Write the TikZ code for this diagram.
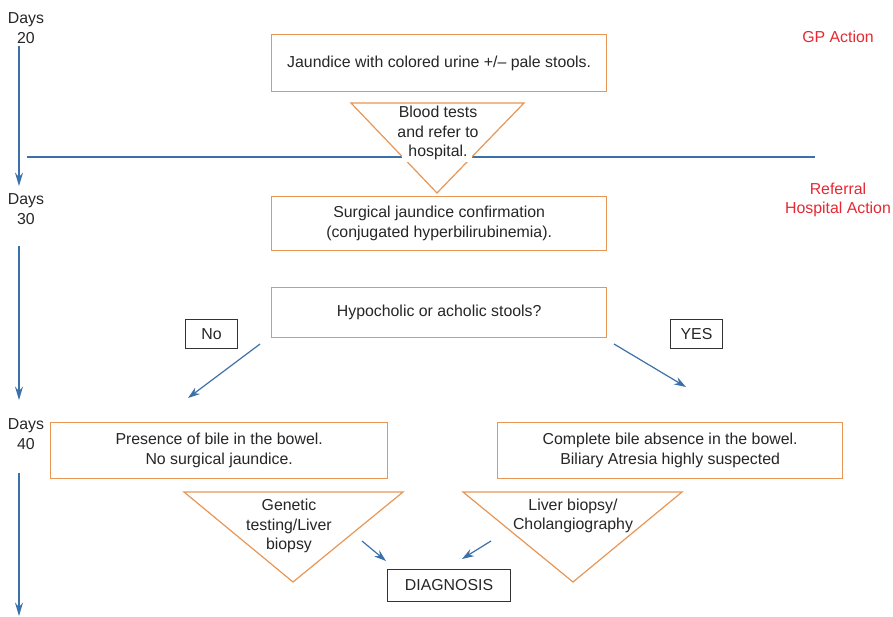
\documentclass[tikz,border=0pt]{standalone}
\usepackage{fontspec}
\setmainfont{Liberation Sans}
\usetikzlibrary{arrows.meta}
\definecolor{borange}{RGB}{232,150,85}
\definecolor{bblue}{RGB}{60,112,168}
\definecolor{bred}{RGB}{230,40,50}
\begin{document}
\begin{tikzpicture}[x=0.75pt,y=-0.75pt,
  every node/.style={font=\fontsize{11.9}{14.7}\selectfont, text=black!85, align=center, inner sep=0pt},
  obox/.style={draw=borange, line width=1pt, anchor=north west},
  kbox/.style={draw=black!80, line width=0.8pt, anchor=north west},
  tri/.style={draw=borange, line width=0.9pt, line join=miter},
  barrow/.style={draw=bblue, line width=0.9pt, -{Stealth[length=9pt,width=6pt]}},
  tline/.style={draw=bblue, line width=1.2pt, -{Stealth[length=10pt,width=6pt]}},
  redlab/.style={text=bred}]
\useasboundingbox (0,0) rectangle (893,617);

% time labels
\node (d20) at (26,28) {Days\\20};
\node (d30) at (26,209) {Days\\30};
\node (d40) at (26,434) {Days\\40};
\coordinate (t1e) at (19,186);
\coordinate (t2e) at (19,400);
\coordinate (t3e) at (19,616);
\draw[tline] (19,46) -- (t1e);
\draw[tline] (19,246) -- (t2e);
\draw[tline] (19,473) -- (t3e);

% separator line
\coordinate (sepL) at (27,157);
\coordinate (sepR) at (815,157);
\draw[bblue, line width=1.2pt] (sepL) -- (sepR);

% red labels
\node[redlab] (gp) at (838,37) {GP Action};
\node[redlab] (ref) at (838,200) {Referral\\Hospital Action};

% boxes
\node[obox, minimum width=335*0.75pt, minimum height=57*0.75pt] (b1) at (271,34) {};
\node (b1t) at (b1.center) {Jaundice with colored urine +/– pale stools.};

% triangle 1
\coordinate (t1a) at (351,103);
\coordinate (t1b) at (524,103);
\coordinate (t1c) at (437,193);
\fill[white] (t1a) -- (t1b) -- (t1c) -- cycle;
\draw[tri] (t1a) -- (t1b) -- (t1c) -- cycle;
\fill[white] (402,143) rectangle (472,162);
\node (t1t) at (438,133) {Blood tests\\and refer to\\hospital.};

\node[obox, minimum width=335*0.75pt, minimum height=54*0.75pt] (b2) at (271,196) {};
\node (b2t) at (b2.center) {Surgical jaundice confirmation\\(conjugated hyperbilirubinemia).};

\node[obox, minimum width=335*0.75pt, minimum height=50*0.75pt] (b3) at (271,287) {};
\node (b3t) at (b3.center) {Hypocholic or acholic stools?};

\node[kbox, minimum width=52*0.75pt, minimum height=29*0.75pt] (no) at (185,319) {};
\node at (no.center) {No};
\node[kbox, minimum width=52*0.75pt, minimum height=29*0.75pt] (yes) at (670,319) {};
\node at (yes.center) {YES};

\coordinate (nos) at (260,344);
\coordinate (noe) at (188,398);
\coordinate (yss) at (614,344);
\coordinate (yse) at (686,387);
\draw[barrow] (nos) -- (noe);
\draw[barrow] (yss) -- (yse);

\node[obox, minimum width=337*0.75pt, minimum height=56*0.75pt] (b4) at (50,422) {};
\node (b4t) at (b4.center) {Presence of bile in the bowel.\\No surgical jaundice.};
\node[obox, minimum width=345*0.75pt, minimum height=56*0.75pt] (b5) at (497,422) {};
\node (b5t) at (b5.center) {Complete bile absence in the bowel.\\Biliary Atresia highly suspected};

% triangles bottom
\draw[tri] (184,492) -- (403,492) -- (293,582) -- cycle;
\node (t2t) at (289,526) {Genetic\\testing/Liver\\biopsy};
\draw[tri] (463,492) -- (682,492) -- (573,582) -- cycle;
\node (t3t) at (573,516) {Liver biopsy/\\Cholangiography};

\node[kbox, minimum width=123*0.75pt, minimum height=32*0.75pt] (dx) at (387,569) {};
\node at (dx.center) {DIAGNOSIS};

\coordinate (l1s) at (362,541);
\coordinate (l1e) at (386,561);
\coordinate (r1s) at (491,541);
\coordinate (r1e) at (462,559);
\draw[barrow] (l1s) -- (l1e);
\draw[barrow] (r1s) -- (r1e);
\end{tikzpicture}
\end{document}
